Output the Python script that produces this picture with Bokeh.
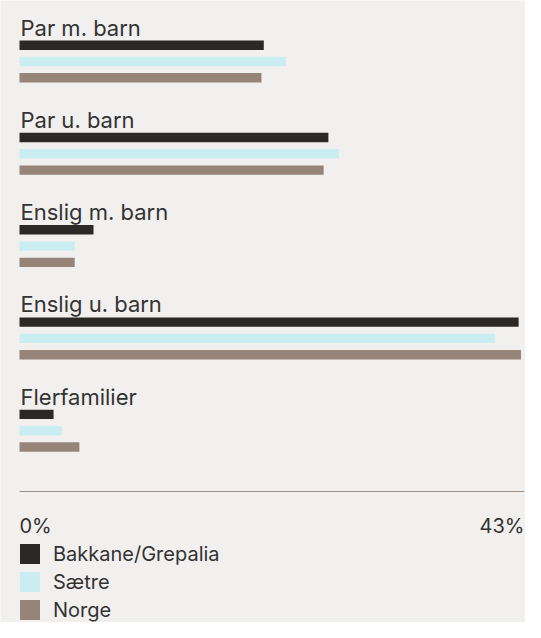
from bokeh.plotting import figure
from bokeh.models import Range1d, ColumnDataSource, Legend, LegendItem
from bokeh.core.properties import value
from bokeh.embed import file_html
from bokeh.resources import INLINE

# ---- data ----
categories = ["Par m. barn", "Par u. barn", "Enslig m. barn", "Enslig u. barn", "Flerfamilier"]
series_names = ["Bakkane/Grepalia", "Sætre", "Norge"]
bakkane = [20.8, 26.3, 6.3, 42.5, 2.9]
saetre = [22.7, 27.2, 4.7, 40.5, 3.6]
norge = [20.6, 25.9, 4.7, 42.7, 5.1]
tick_values = [0, 43]
tick_labels = ["0%", "43%"]

# ---- styles / layout ----
W, H = 525, 622
X_LEFT = 19.0         # px from figure left to value 0
X_RIGHT = 524.0       # px from figure left to value xmax
BG = "#f2f0ee"
TEXT = "#333333"
COLORS = ["#2c2825", "#c9edf1", "#968479"]
AXIS_COLOR = "#a38e82"
FONT = "Inter"

GROUP_TOP = 40.0      # px: top of first bar of first group
GROUP_PITCH = 92.3
BAR_PITCH = 16.3
BAR_H = 9.4
LABEL_BASE = 27.0     # px: baseline of first category label
AXIS_Y = 491.0
TICK_BASE = 525.0

xmax = tick_values[-1]
ppu = (X_RIGHT - X_LEFT) / xmax
x_start = -X_LEFT / ppu
x_end = x_start + W / ppu

p = figure(width=W, height=H, output_backend="svg", toolbar_location=None,
           x_range=Range1d(x_start, x_end), y_range=Range1d(H, 0),
           x_axis_type=None, y_axis_type=None, min_border=0,
           background_fill_color=BG, border_fill_color=BG,
           outline_line_color=None, tools="")
p.grid.visible = False

series = [bakkane, saetre, norge]
renderers = []
for s, (name, vals, col) in enumerate(zip(series_names, series, COLORS)):
    ys = [GROUP_TOP + g * GROUP_PITCH + s * BAR_PITCH + BAR_H / 2 for g in range(len(categories))]
    src = ColumnDataSource(dict(y=ys, right=vals, cat=categories))
    r = p.hbar(y="y", left=0, right="right", height=BAR_H, source=src,
               fill_color=col, line_color=None)
    renderers.append((name, r))

# category labels
lab_src = ColumnDataSource(dict(x=[0] * len(categories),
                                y=[LABEL_BASE + g * GROUP_PITCH for g in range(len(categories))],
                                text=categories))
p.text(x="x", y="y", text="text", source=lab_src, text_font=value(FONT),
       text_font_size="22px", text_color=TEXT, text_baseline="alphabetic",
       text_align="left", x_offset=1)

# axis line
p.segment(x0=[tick_values[0]], x1=[tick_values[-1]], y0=[AXIS_Y], y1=[AXIS_Y],
          line_color=AXIS_COLOR, line_width=1)

# tick labels
tick_src = ColumnDataSource(dict(x=tick_values, y=[TICK_BASE] * len(tick_values),
                                 text=tick_labels, align=["left", "right"]))
p.text(x="x", y="y", text="text", source=tick_src, text_font=value(FONT),
       text_font_size="20px", text_color=TEXT, text_baseline="alphabetic",
       text_align="align")

legend = Legend(items=[LegendItem(label=n, renderers=[r]) for n, r in renderers],
                location=(17, 0), orientation="vertical",
                glyph_width=25, glyph_height=25, label_height=25, spacing=3,
                label_standoff=11, padding=0, margin=0,
                label_text_font=FONT, label_text_font_size="20px",
                label_text_color=TEXT, background_fill_alpha=0,
                border_line_alpha=0)
p.add_layout(legend, "center")

open("out.html", "w").write(file_html(p, INLINE))
